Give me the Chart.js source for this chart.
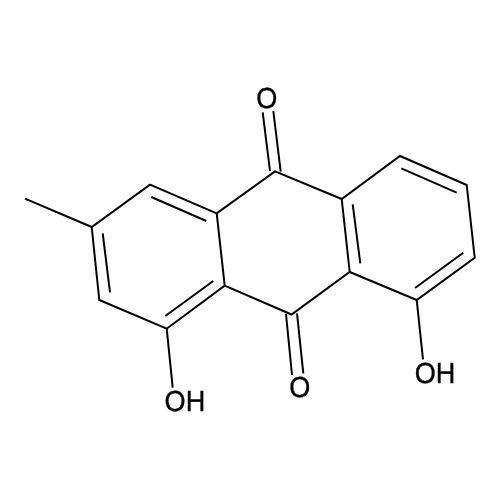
<!DOCTYPE html>
<html>
<head>
<meta charset="utf-8">
<style>html,body{margin:0;padding:0;background:#fff}canvas{display:block}</style>
<script src="https://cdn.jsdelivr.net/npm/chart.js@4"></script>
</head>
<body>
<canvas id="c" width="500" height="500"></canvas>
<script>
// Skeleton paths, null separates strokes
const bondX = [25,91.7,150,216.7,275,341.7,400,466.7,474.7,416.7,349.7,291.5,224.7,166.7,99.3,91.7,null,
  216.7,224.7,null, 341.7,349.7,null, 166.7,172.7,null, 416.7,423,null,
  151.3,206.3,null, 102.7,110,null, 165.3,213.3,null, 352.7,360.3,null, 401.3,456.7,null, 415,463.3,null,
  270,262.7,null, 280.7,273.3,null, 286,292,null, 297,303.3];
const bondY = [198.7,227,184.7,213.3,171.4,199,156,185,257.7,300,272,314.5,285.7,328.7,300,227,null,
  213.3,285.7,null, 199,272,null, 328.7,387.7,null, 300,359.3,null,
  197,221,null, 233.3,292.3,null, 316,281,null, 204.3,263.3,null, 168.3,192.7,null, 288,252.7,null,
  171,112.3,null, 171.7,111,null, 314,375,null, 313.3,373.3];
const atomLabels = ["O","O","OH","OH"];
const atomX = [266.7,299.8,184.9,435];
const atomY = [107.5,396.5,410.5,383];
const ink = "#000000";

const atomText = {
  id: "atomText",
  afterDatasetsDraw(chart) {
    const {ctx, scales} = chart;
    ctx.fillStyle = ink;
    ctx.strokeStyle = ink;
    ctx.lineWidth = 0.35;
    ctx.textRendering = "geometricPrecision";
    ctx.font = '29px "Liberation Sans", Arial, sans-serif';
    ctx.textAlign = "center";
    ctx.textBaseline = "alphabetic";
    atomLabels.forEach((t, i) => {
      ctx.save();
      ctx.translate(scales.x.getPixelForValue(atomX[i]), scales.y.getPixelForValue(atomY[i]));
      ctx.scale(0.935, 1);
      ctx.fillText(t, 0, 0);
      ctx.strokeText(t, 0, 0);
      ctx.restore();
    });
  }
};

new Chart(document.getElementById("c"), {
  type: "scatter",
  data: { datasets: [{
    data: bondX.map((x, i) => ({x: x, y: bondY[i]})),
    showLine: true, spanGaps: false,
    borderColor: ink, borderWidth: 2, pointRadius: 0,
    borderJoinStyle: "miter", borderCapStyle: "butt", tension: 0
  }]},
  options: {
    responsive: false, animation: false, devicePixelRatio: 1,
    layout: {padding: 0},
    plugins: {legend: {display: false}, tooltip: {enabled: false}},
    scales: {
      x: {type: "linear", min: 0, max: 500, display: false},
      y: {type: "linear", min: 0, max: 500, reverse: true, display: false}
    }
  },
  plugins: [atomText]
});
</script>
</body>
</html>
